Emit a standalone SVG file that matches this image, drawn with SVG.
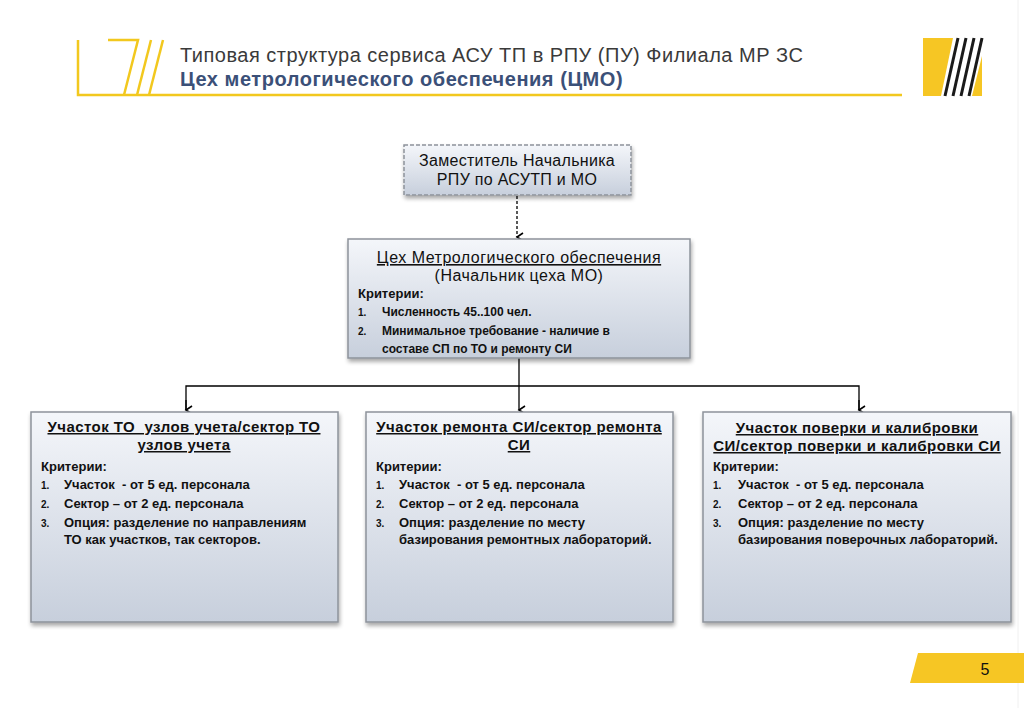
<svg xmlns="http://www.w3.org/2000/svg" width="1024" height="708" viewBox="0 0 1024 708">
<defs>
<style>
text{font-family:"Liberation Sans",Arial,sans-serif;fill:#111}
.box{fill:url(#g);stroke:#8d939b;stroke-width:1.5;filter:url(#sh)}
.t{font-size:15px;font-weight:bold;text-anchor:middle;text-decoration:underline;letter-spacing:0.45px}
.k{font-size:13px;font-weight:bold}
.n{font-size:10px;font-weight:bold}
.i{font-size:13px;font-weight:bold}
.i2{font-size:12px;font-weight:bold}
.con{stroke:#000;stroke-width:1.3;fill:none}
.y{fill:none;stroke:#f2c81e;stroke-width:2.5}
</style>
<linearGradient id="g" x1="0" y1="0" x2="0" y2="1">
<stop offset="0" stop-color="#f4f6fa"/>
<stop offset="1" stop-color="#c7cfdc"/>
</linearGradient>
<filter id="sh" x="-10%" y="-10%" width="130%" height="130%">
<feGaussianBlur in="SourceAlpha" stdDeviation="2"/>
<feOffset dx="1" dy="3" result="b"/>
<feComponentTransfer><feFuncA type="linear" slope="0.35"/></feComponentTransfer>
<feMerge><feMergeNode/><feMergeNode in="SourceGraphic"/></feMerge>
</filter>
<marker id="ar" markerWidth="10" markerHeight="10" refX="5" refY="8" orient="auto" markerUnits="userSpaceOnUse" viewBox="0 0 10 10">
<path d="M1,2 L5,8 L9,2" fill="none" stroke="#000" stroke-width="1.6"/>
</marker>
</defs>
<rect width="1024" height="708" fill="#ffffff"/>
<line x1="1018" y1="0" x2="1018" y2="708" stroke="#f0f0f0" stroke-width="1"/>
<g id="header">
<path class="y" d="M78,40 V95 H902"/>
<path class="y" d="M108,40 H138 L124,95"/>
<line class="y" x1="151" y1="40" x2="137" y2="95"/>
<line class="y" x1="163" y1="40" x2="149" y2="95"/>
<polygon points="923,38 953,38 941,96 923,96" fill="#f6c624"/>
<polygon points="982,56 982,96 972,96" fill="#f6c624"/>
<g stroke="#1a1a1a" stroke-width="3">
<line x1="958" y1="38" x2="945" y2="96"/>
<line x1="966" y1="38" x2="953" y2="96"/>
<line x1="974" y1="38" x2="961" y2="96"/>
<line x1="982" y1="38" x2="969" y2="96"/>
</g>
<text x="180" y="62" font-size="20" letter-spacing="0.5" style="fill:#3a3a3a">Типовая структура сервиса АСУ ТП в РПУ (ПУ) Филиала МР ЗС</text>
<text x="180" y="86" font-size="20" font-weight="bold" letter-spacing="0.55" style="fill:#3b5078">Цех метрологического обеспечения (ЦМО)</text>
</g>
<g id="page">
<polygon points="918,653 1024,653 1024,683 910,683" fill="#f6c624"/>
<text x="985" y="675" font-size="16" text-anchor="middle">5</text>
</g>
<g id="connectors">
<line class="con" x1="517" y1="196" x2="517" y2="237" stroke-dasharray="3,2" marker-end="url(#ar)"/>
<line class="con" x1="519" y1="358" x2="519" y2="410" marker-end="url(#ar)"/>
<polyline class="con" points="186,410 186,386 859,386 859,410"/>
<line class="con" x1="186" y1="400" x2="186" y2="410" marker-end="url(#ar)"/>
<line class="con" x1="859" y1="400" x2="859" y2="410" marker-end="url(#ar)"/>
</g>
<g id="deputy">
<rect x="404" y="145" width="227" height="50" fill="url(#g)" stroke="#8d939b" stroke-width="1.5" stroke-dasharray="4,2" filter="url(#sh)"/>
<text x="517" y="166" font-size="16" letter-spacing="0.3" text-anchor="middle">Заместитель Начальника</text>
<text x="517" y="185" font-size="16" letter-spacing="0.3" text-anchor="middle">РПУ по АСУТП и МО</text>
</g>
<g id="cmo">
<rect class="box" x="348" y="239" width="342" height="119"/>
<text x="519" y="263" font-size="16" letter-spacing="0.5" text-anchor="middle" text-decoration="underline">Цех Метрологического обеспечения</text>
<text x="519" y="281" font-size="16" letter-spacing="0.5" text-anchor="middle">(Начальник цеха МО)</text>
<text class="k" x="358" y="298">Критерии:</text>
<text class="n" x="358" y="316">1.</text>
<text class="i2" x="382" y="316">Численность 45..100 чел.</text>
<text class="n" x="358" y="335">2.</text>
<text class="i2" x="382" y="335">Минимальное требование - наличие в</text>
<text class="i2" x="382" y="353">составе СП по ТО и ремонту СИ</text>
</g>
<g id="to">
<rect class="box" x="31" y="412" width="307" height="210"/>
<text class="t" x="184" y="432" xml:space="preserve">Участок ТО  узлов учета/сектор ТО</text>
<text class="t" x="184" y="450">узлов учета</text>
<text class="k" x="41" y="471">Критерии:</text>
<text class="n" x="41" y="489">1.</text>
<text class="i" x="64" y="489" xml:space="preserve">Участок  - от 5 ед. персонала</text>
<text class="n" x="41" y="508">2.</text>
<text class="i" x="64" y="508">Сектор – от 2 ед. персонала</text>
<text class="n" x="41" y="527">3.</text>
<text class="i" x="64" y="527">Опция: разделение по направлениям</text>
<text class="i" x="64" y="544">ТО как участков, так секторов.</text>
</g>
<g id="repair">
<rect class="box" x="366" y="412" width="307" height="210"/>
<text class="t" x="519" y="432">Участок ремонта СИ/сектор ремонта</text>
<text class="t" x="519" y="450">СИ</text>
<text class="k" x="376" y="471">Критерии:</text>
<text class="n" x="376" y="489">1.</text>
<text class="i" x="399" y="489" xml:space="preserve">Участок  - от 5 ед. персонала</text>
<text class="n" x="376" y="508">2.</text>
<text class="i" x="399" y="508">Сектор – от 2 ед. персонала</text>
<text class="n" x="376" y="527">3.</text>
<text class="i" x="399" y="527">Опция: разделение по месту</text>
<text class="i" x="399" y="544">базирования ремонтных лабораторий.</text>
</g>
<g id="calib">
<rect class="box" x="703" y="412" width="308" height="210"/>
<text class="t" x="857" y="433">Участок поверки и калибровки</text>
<text class="t" x="857" y="451">СИ/сектор поверки и калибровки СИ</text>
<text class="k" x="713" y="471">Критерии:</text>
<text class="n" x="713" y="489">1.</text>
<text class="i" x="738" y="489" xml:space="preserve">Участок  - от 5 ед. персонала</text>
<text class="n" x="713" y="508">2.</text>
<text class="i" x="738" y="508">Сектор – от 2 ед. персонала</text>
<text class="n" x="713" y="527">3.</text>
<text class="i" x="738" y="527">Опция: разделение по месту</text>
<text class="i" x="738" y="544">базирования поверочных лабораторий.</text>
</g>
</svg>
